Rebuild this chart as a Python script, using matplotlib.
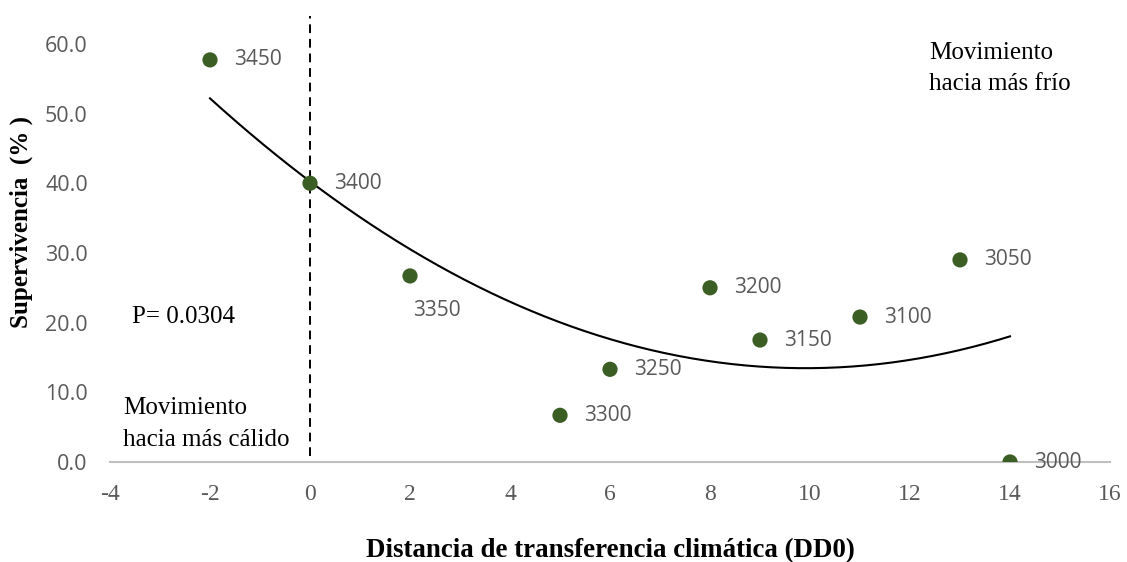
import numpy as np
import matplotlib
matplotlib.use("Agg")
import matplotlib.pyplot as plt

# Data
distance = [-2, 0, 2, 5, 6, 8, 9, 11, 13, 14]
survival = [57.7, 40.0, 26.7, 6.7, 13.3, 25.0, 17.5, 20.8, 29.0, 0.0]
elevation = ["3450", "3400", "3350", "3300", "3250", "3200", "3150", "3100", "3050", "3000"]
xticks = [-4, -2, 0, 2, 4, 6, 8, 10, 12, 14, 16]
yticks = [0, 10, 20, 30, 40, 50, 60]

fig = plt.figure(figsize=(11.27, 5.62), dpi=100)
ax = fig.add_axes([110/1127, 1 - 462/562, 1000/1127, 446/562])

green = "#3b5e24"
gray = "#595959"

# Quadratic trendline (least squares fit of data)
coef = np.polyfit(distance, survival, 2)
xs = np.linspace(min(distance), max(distance), 300)
ax.plot(xs, np.polyval(coef, xs), color="black", lw=1.5, zorder=2)

ax.scatter(distance, survival, s=120, color=green, zorder=3, edgecolors="none")

for x, y, lab in zip(distance, survival, elevation):
    if lab == "3350":
        ax.annotate(lab, (x, y), xytext=(3, -35), textcoords="offset pixels",
                    ha="left", va="center", fontsize=15, color=gray, family="Open Sans")
    else:
        ax.annotate(lab, (x, y), xytext=(24, 0), textcoords="offset pixels",
                    ha="left", va="center", fontsize=15, color=gray, family="Open Sans")

# Vertical dashed line at 0
ax.plot([0, 0], [0.8, 64], color="black", lw=1.4, ls=(0, (4.5, 3)), zorder=1)

ax.set_xlim(-4, 16)
ax.set_ylim(0, 64)
ax.set_xticks(xticks)
ax.set_yticks(yticks)
ax.set_xticklabels([str(t) for t in xticks], family="Liberation Serif", fontsize=17, color=gray)
ax.set_yticklabels([f"{t:.1f}" for t in yticks], family="Open Sans", fontsize=15.5, color=gray)
ax.tick_params(length=0)
ax.tick_params(axis="y", pad=16)
ax.tick_params(axis="x", pad=16)
for s in ["top", "right", "left"]:
    ax.spines[s].set_visible(False)
ax.spines["bottom"].set_color("#bfbfbf")
ax.spines["bottom"].set_linewidth(1.5)

ax.set_xlabel("Distancia de transferencia climática (DD0)", family="Liberation Serif",
              fontweight="bold", fontsize=19.4, labelpad=24)
ax.set_ylabel("Supervivencia  (% )", family="Liberation Serif", fontweight="bold",
              fontsize=18)
ax.yaxis.set_label_coords(-0.077, 0.538)

ax.text(-3.56, 20.8, "P= 0.0304", family="Liberation Serif", fontsize=18, va="center", ha="left")
ax.text(-3.74, 5.45, "Movimiento\nhacia más cálido", family="Liberation Serif", fontsize=18,
        va="center", ha="left", linespacing=1.55)
ax.text(12.38, 56.5, "Movimiento\nhacia más frío", family="Liberation Serif", fontsize=18,
        va="center", ha="left", linespacing=1.55)

fig.savefig("out.png", dpi=100)
